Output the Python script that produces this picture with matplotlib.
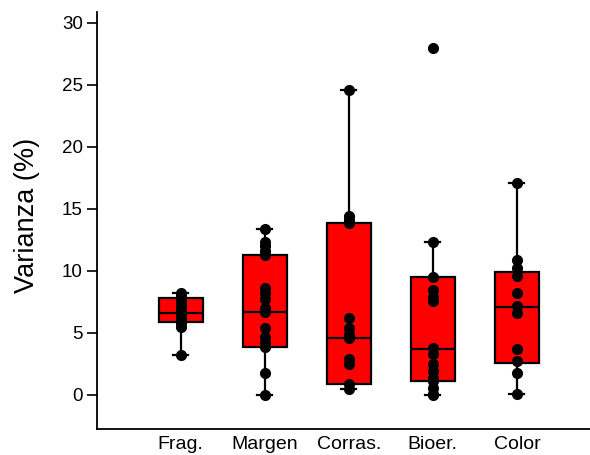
import matplotlib.pyplot as plt
import numpy as np

plt.rcParams['font.family'] = ['Liberation Sans', 'DejaVu Sans']

categories = ['Frag.', 'Margen', 'Corras.', 'Bioer.', 'Color']

# box statistics
q1 = [5.9, 3.9, 0.9, 1.1, 2.6]
med = [6.6, 6.7, 4.6, 3.7, 7.1]
q3 = [7.8, 11.3, 13.9, 9.5, 9.9]
whislo = [3.2, 0.0, 0.5, 0.0, 0.1]
whishi = [8.2, 13.4, 24.6, 12.3, 17.1]

# individual observations
frag = [8.2, 8.0, 7.8, 7.5, 7.2, 7.0, 6.8, 6.5, 6.2, 6.0, 5.8, 5.5, 3.2]
margen = [13.4, 12.3, 12.0, 11.6, 11.3, 8.6, 8.2, 7.7, 7.0, 6.7, 5.4, 4.7, 4.3, 3.9, 1.8, 0.0]
corras = [24.6, 14.4, 14.1, 13.9, 6.2, 5.4, 4.9, 4.6, 2.9, 2.5, 0.9, 0.5]
bioer = [28.0, 12.3, 9.5, 8.5, 7.9, 7.6, 3.8, 3.3, 2.5, 1.9, 1.4, 1.1, 0.6, 0.1, 0.0]
color = [17.1, 10.9, 10.2, 9.6, 8.2, 7.2, 6.6, 3.7, 2.7, 1.8, 0.1]
points = [frag, margen, corras, bioer, color]

fig = plt.figure(figsize=(5.9, 4.55), dpi=100)
ax = fig.add_axes([0.164, 0.057, 0.836, 0.917])

stats = []
for i, name in enumerate(categories):
    stats.append(dict(label=name, q1=q1[i], med=med[i], q3=q3[i],
                      whislo=whislo[i], whishi=whishi[i], fliers=[]))

pos = np.arange(1, len(categories) + 1)
ax.bxp(stats, positions=pos, widths=0.52, patch_artist=True, showfliers=False,
       boxprops=dict(facecolor='#ff0000', edgecolor='black', linewidth=1.6),
       medianprops=dict(color='black', linewidth=1.6),
       whiskerprops=dict(color='black', linewidth=1.6),
       capprops=dict(color='black', linewidth=1.6), capwidths=0.18)

for p, vals in zip(pos, points):
    ax.plot(np.full(len(vals), p), vals, 'o', color='black', markersize=7, zorder=3)

ax.set_xlim(0, 5.87)
ax.set_ylim(-2.75, 30.9)
ax.set_yticks([0, 5, 10, 15, 20, 25, 30])
ax.tick_params(axis='y', labelsize=13.5, length=7, width=1.2, direction='out', pad=3)
ax.tick_params(axis='x', length=0, labelsize=14, pad=5)
ax.set_xticks(pos)
ax.set_xticklabels(categories)
ax.set_ylabel('Varianza (%)', fontsize=19.5, labelpad=16, y=0.513)

for s in ['top', 'right']:
    ax.spines[s].set_visible(False)
for s in ['left', 'bottom']:
    ax.spines[s].set_linewidth(1.3)

fig.savefig('out.png', dpi=100)
